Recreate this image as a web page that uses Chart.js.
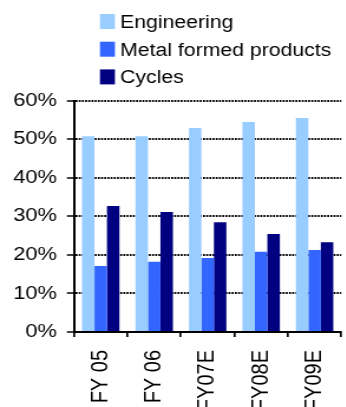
<!DOCTYPE html>
<html>
<head>
<meta charset="utf-8">
<script src="https://cdn.jsdelivr.net/npm/chart.js@4/dist/chart.umd.min.js"></script>
<style>
  html, body { margin: 0; padding: 0; overflow: hidden; background: #fff; width: 346px; height: 407px; }
  /* the whole chart is drawn a bit narrow and widened afterwards */
  #wrap { width: 304px; height: 407px; transform: scaleX(1.18); transform-origin: 0 0; }
</style>
</head>
<body>
<div id="wrap"><canvas id="segChart" width="304" height="407"></canvas></div>
<script>
const years = ['FY 05', 'FY 06', 'FY07E', 'FY08E', 'FY09E'];
const engineering = [50.8, 50.8, 52.9, 54.5, 55.5];
const metalFormed = [17.1, 18.2, 19.2, 20.8, 21.3];
const cycles = [32.7, 31.1, 28.5, 25.4, 23.3];
const yTicks = [0, 10, 20, 30, 40, 50, 60];

const fontFamily = '"Liberation Sans", Arial, sans-serif';

// stacked key in the top left, one row per series
const seriesKey = {
    id: 'seriesKey',
    afterDraw(chart) {
        const ctx = chart.ctx;
        ctx.save();
        ctx.font = '18px ' + fontFamily;
        ctx.textBaseline = 'alphabetic';
        chart.data.datasets.forEach((ds, i) => {
            const y = 21.5 + i * 27.7;
            ctx.fillStyle = ds.backgroundColor;
            ctx.fillRect(84.7, y - 7.5, 12.7, 15);
            ctx.fillStyle = '#000';
            ctx.fillText(ds.label, 101.7, y + 6.5);
        });
        ctx.restore();
    }
};

const ctx = document.getElementById('segChart').getContext('2d');

new Chart(ctx, {
    type: 'bar',
    data: {
        labels: years,
        datasets: [
            { label: 'Engineering', data: engineering, backgroundColor: '#99CCFF' },
            { label: 'Metal formed products', data: metalFormed, backgroundColor: '#3366FF' },
            { label: 'Cycles', data: cycles, backgroundColor: '#000080' }
        ]
    },
    options: {
        responsive: false,
        animation: false,
        datasets: {
            bar: { categoryPercentage: 0.7, barPercentage: 1.0, borderWidth: 0 }
        },
        layout: { padding: { top: 100.7, right: 4, left: 0, bottom: 0 } },
        plugins: {
            legend: { display: false },
            tooltip: { enabled: false }
        },
        scales: {
            x: {
                grid: { display: true, drawOnChartArea: false, offset: true, color: '#000', lineWidth: 1.7, tickLength: 5 },
                border: { display: true, color: '#000', width: 2 },
                ticks: {
                    minRotation: 90, maxRotation: 90, autoSkip: false, padding: 13,
                    color: '#000', font: { size: 20, family: fontFamily }
                },
                afterFit: s => { s.height = 75; }
            },
            y: {
                min: 0,
                max: 60,
                afterBuildTicks: s => { s.ticks = yTicks.map(v => ({ value: v })); },
                ticks: {
                    callback: v => v + '%', padding: 8.5,
                    color: '#000', font: { size: 18.5, family: fontFamily }
                },
                grid: { color: '#000', lineWidth: 2, tickLength: 6, tickColor: '#000', tickWidth: 1.5 },
                border: { display: true, color: '#000', width: 2, dash: [1.7, 1] },
                afterFit: s => { s.width = 62.7; }
            }
        }
    },
    plugins: [seriesKey]
});
</script>
</body>
</html>
